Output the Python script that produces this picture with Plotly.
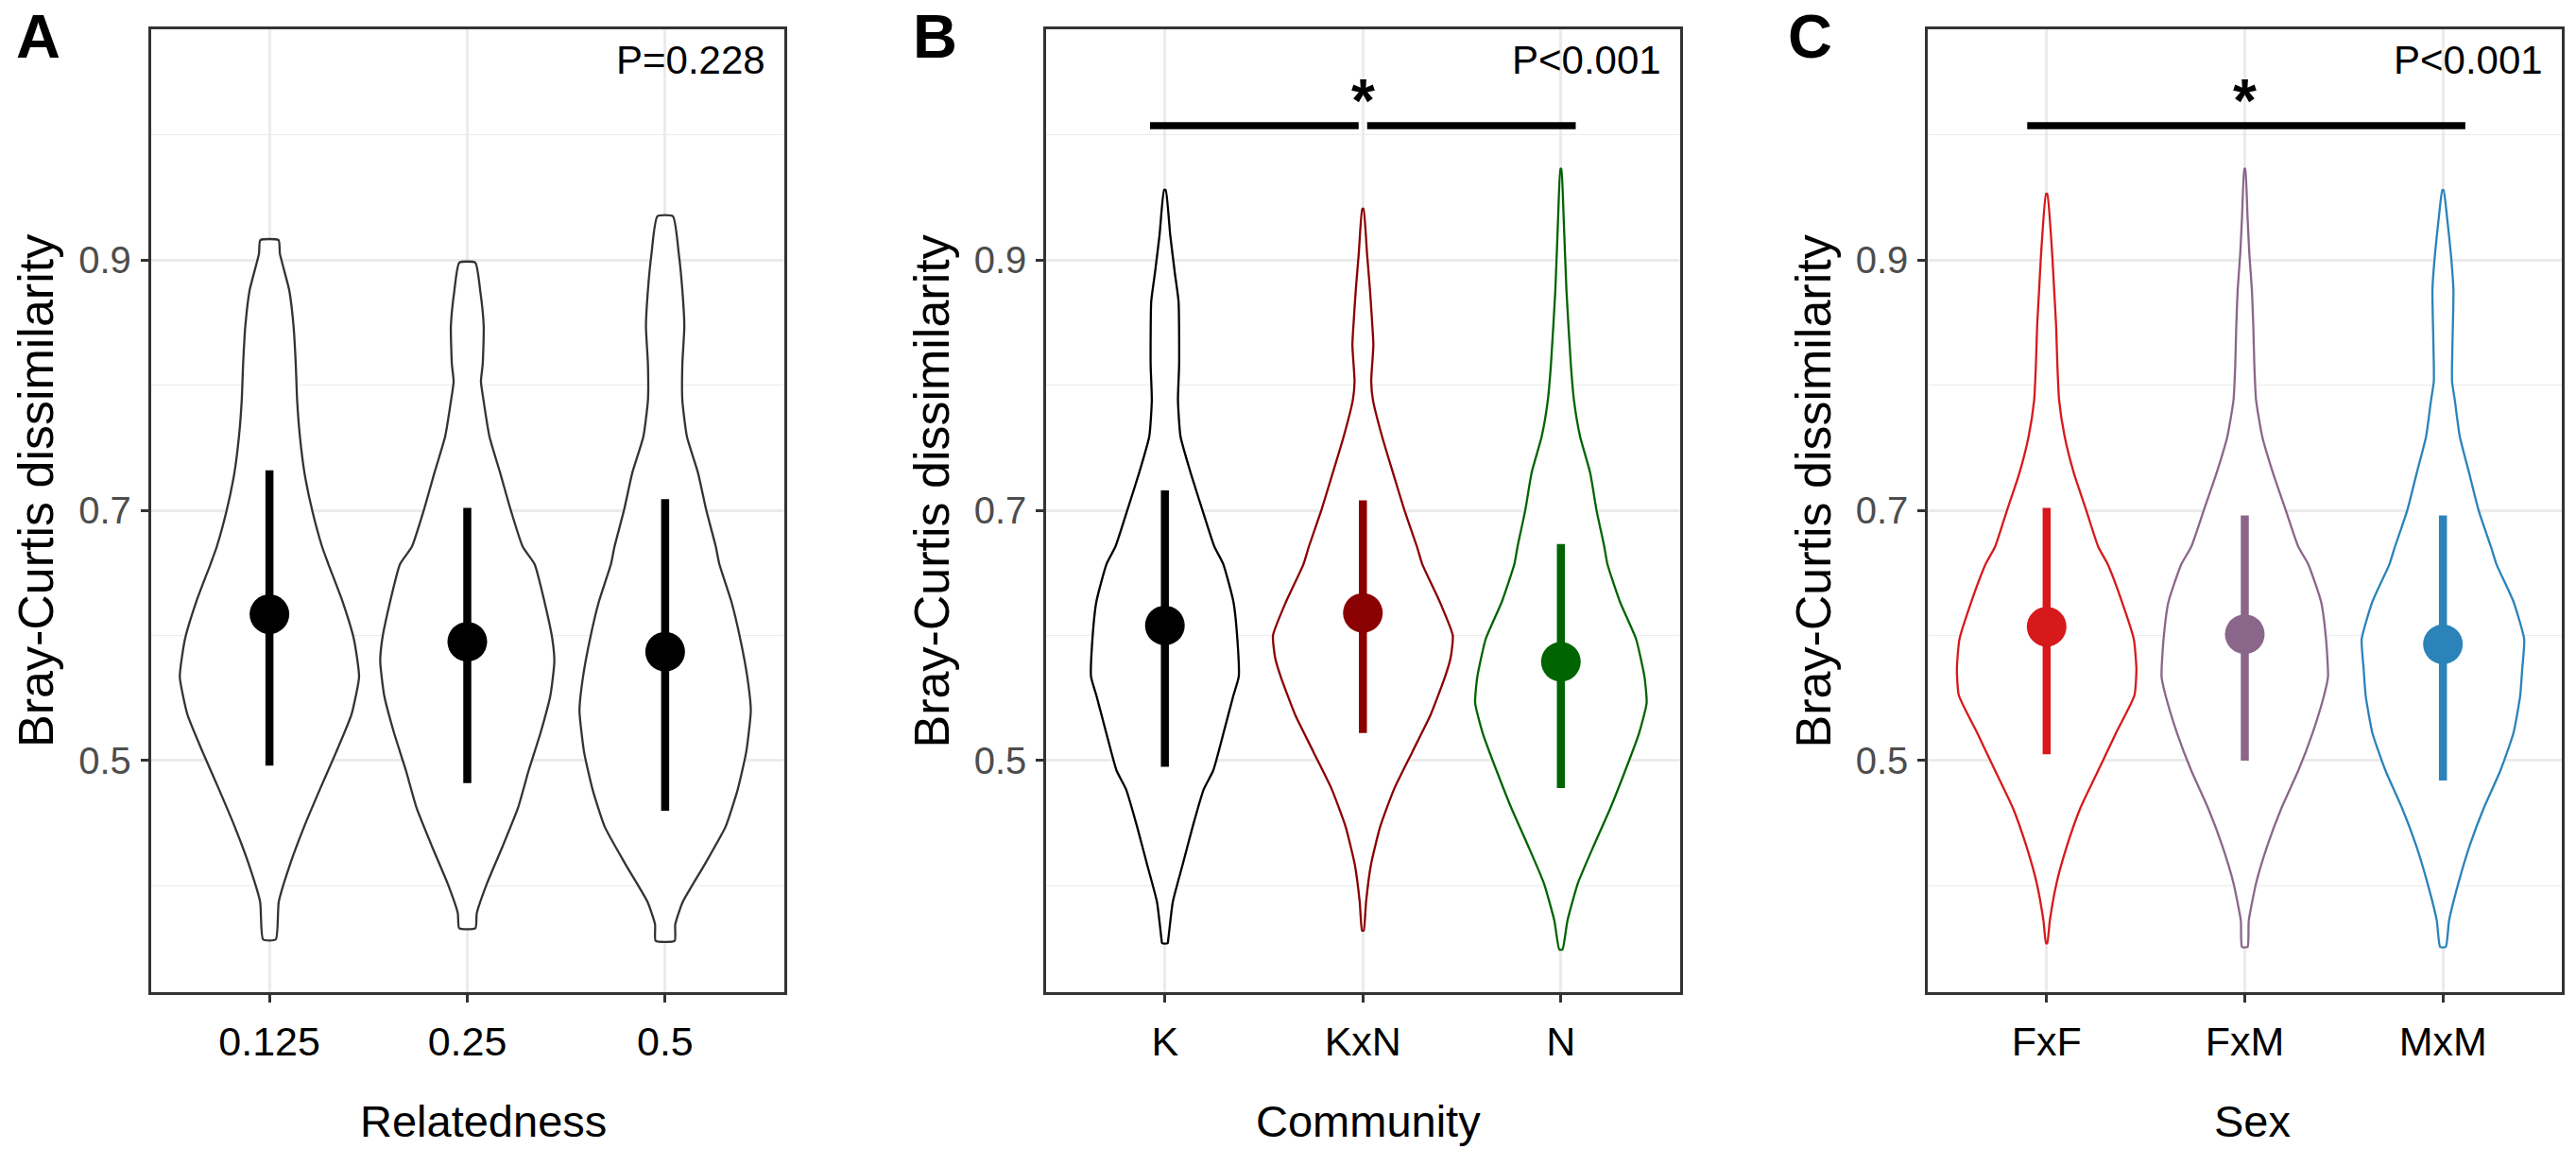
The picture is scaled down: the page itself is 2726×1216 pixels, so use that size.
import plotly.graph_objects as go

FONT = "Liberation Sans, Arial, Helvetica, sans-serif"
W, H = 2726, 1216

# ---------------- data ----------------
rel_labels = ["0.125", "0.25", "0.5"]
com_labels = ["K", "KxN", "N"]
sex_labels = ["FxF", "FxM", "MxM"]

rel_colors = ["#000000", "#000000", "#000000"]
rel_line_colors = ["#333333", "#333333", "#333333"]
com_colors = ["#000000", "#8B0000", "#006400"]
sex_colors = ["#D7191C", "#8B668B", "#2B83BA"]

rel_mean = [0.617, 0.595, 0.587]
rel_upper = [0.732, 0.702, 0.709]
rel_lower = [0.496, 0.482, 0.460]

com_mean = [0.608, 0.618, 0.579]
com_upper = [0.716, 0.708, 0.673]
com_lower = [0.495, 0.522, 0.478]

sex_mean = [0.607, 0.601, 0.593]
sex_upper = [0.702, 0.696, 0.696]
sex_lower = [0.505, 0.500, 0.484]

# violin profiles (value level, half width in category units)
rel1_y = [0.357, 0.387, 0.417, 0.447, 0.477, 0.507, 0.537, 0.567, 0.597, 0.627, 0.657, 0.671, 0.700, 0.730, 0.759, 0.788, 0.817, 0.847, 0.876, 0.905, 0.916]
rel1_w = [0.032, 0.047, 0.104, 0.175, 0.255, 0.338, 0.415, 0.453, 0.427, 0.370, 0.298, 0.266, 0.216, 0.177, 0.154, 0.140, 0.133, 0.122, 0.100, 0.053, 0.046]
rel2_y = [0.366, 0.378, 0.402, 0.432, 0.462, 0.492, 0.522, 0.552, 0.579, 0.597, 0.627, 0.657, 0.671, 0.700, 0.730, 0.759, 0.788, 0.803, 0.817, 0.847, 0.876, 0.898]
rel2_w = [0.041, 0.048, 0.100, 0.180, 0.256, 0.310, 0.370, 0.420, 0.440, 0.430, 0.390, 0.340, 0.280, 0.220, 0.166, 0.112, 0.082, 0.069, 0.078, 0.083, 0.065, 0.040]
rel3_y = [0.356, 0.369, 0.387, 0.417, 0.447, 0.477, 0.507, 0.540, 0.567, 0.597, 0.627, 0.657, 0.671, 0.700, 0.730, 0.759, 0.788, 0.817, 0.847, 0.876, 0.905, 0.935]
rel3_w = [0.048, 0.051, 0.089, 0.200, 0.305, 0.367, 0.410, 0.433, 0.415, 0.380, 0.335, 0.274, 0.256, 0.208, 0.166, 0.110, 0.087, 0.087, 0.097, 0.087, 0.069, 0.039]

com1_y = [0.354, 0.357, 0.387, 0.417, 0.447, 0.477, 0.492, 0.522, 0.552, 0.567, 0.597, 0.627, 0.657, 0.671, 0.700, 0.730, 0.759, 0.788, 0.817, 0.867, 0.890, 0.920, 0.956]
com1_w = [0.014, 0.017, 0.040, 0.090, 0.140, 0.196, 0.244, 0.296, 0.346, 0.373, 0.366, 0.346, 0.295, 0.250, 0.190, 0.130, 0.079, 0.066, 0.072, 0.069, 0.050, 0.027, 0.004]
com2_y = [0.364, 0.387, 0.417, 0.447, 0.477, 0.507, 0.537, 0.567, 0.582, 0.600, 0.627, 0.657, 0.671, 0.700, 0.730, 0.759, 0.788, 0.803, 0.832, 0.847, 0.876, 0.905, 0.941]
com2_w = [0.004, 0.016, 0.041, 0.087, 0.157, 0.250, 0.343, 0.415, 0.443, 0.454, 0.388, 0.300, 0.273, 0.210, 0.152, 0.097, 0.051, 0.042, 0.053, 0.048, 0.036, 0.021, 0.003]
com3_y = [0.349, 0.372, 0.402, 0.432, 0.462, 0.492, 0.522, 0.546, 0.567, 0.597, 0.627, 0.657, 0.671, 0.700, 0.730, 0.759, 0.788, 0.817, 0.876, 0.934, 0.973]
com3_w = [0.008, 0.033, 0.086, 0.166, 0.250, 0.325, 0.395, 0.433, 0.422, 0.380, 0.298, 0.235, 0.219, 0.180, 0.148, 0.097, 0.066, 0.050, 0.028, 0.014, 0.002]

sex1_y = [0.354, 0.372, 0.402, 0.432, 0.462, 0.492, 0.522, 0.552, 0.573, 0.597, 0.627, 0.657, 0.671, 0.700, 0.730, 0.759, 0.788, 0.817, 0.847, 0.876, 0.905, 0.953]
sex1_w = [0.003, 0.016, 0.050, 0.103, 0.170, 0.260, 0.350, 0.443, 0.453, 0.440, 0.380, 0.308, 0.260, 0.200, 0.137, 0.091, 0.063, 0.054, 0.048, 0.038, 0.028, 0.003]
sex2_y = [0.351, 0.372, 0.402, 0.432, 0.462, 0.492, 0.522, 0.552, 0.567, 0.597, 0.627, 0.657, 0.671, 0.700, 0.730, 0.759, 0.788, 0.817, 0.847, 0.876, 0.905, 0.934, 0.973]
sex2_w = [0.014, 0.020, 0.057, 0.114, 0.185, 0.270, 0.342, 0.400, 0.420, 0.410, 0.385, 0.320, 0.270, 0.207, 0.142, 0.088, 0.057, 0.048, 0.043, 0.036, 0.023, 0.014, 0.002]
sex3_y = [0.351, 0.372, 0.402, 0.432, 0.462, 0.492, 0.522, 0.552, 0.573, 0.597, 0.627, 0.657, 0.671, 0.700, 0.730, 0.759, 0.788, 0.803, 0.817, 0.847, 0.876, 0.905, 0.934, 0.956]
sex3_w = [0.014, 0.031, 0.078, 0.135, 0.206, 0.290, 0.356, 0.390, 0.400, 0.410, 0.356, 0.270, 0.242, 0.180, 0.132, 0.085, 0.060, 0.046, 0.046, 0.050, 0.053, 0.040, 0.021, 0.003]

p_texts = ["P=0.228", "P<0.001", "P<0.001"]
x_titles = ["Relatedness", "Community", "Sex"]
y_title = "Bray-Curtis dissimilarity"
panel_letters = ["A", "B", "C"]

# significance bars: (x segments), y level
sig_B_segments = [[0.925, 1.9785], [2.0215, 3.075]]
sig_C_segments = [[0.902, 3.113]]
sig_y = 1.0075
star_y = 1.027
star_x = 2

# ---------------- layout geometry ----------------
panel_px = [(159.5, 829.5), (1107, 1777.5), (2040, 2711)]
ytop_px, ybot_px = 31, 1050
yrange = [0.3149, 1.0845]
xrange = [0.4, 3.6]

panels = [
    dict(labels=rel_labels, colors=rel_colors, lcolors=rel_line_colors, mean=rel_mean, up=rel_upper, lo=rel_lower,
         viol=[(rel1_y, rel1_w), (rel2_y, rel2_w), (rel3_y, rel3_w)], sig=None),
    dict(labels=com_labels, colors=com_colors, lcolors=com_colors, mean=com_mean, up=com_upper, lo=com_lower,
         viol=[(com1_y, com1_w), (com2_y, com2_w), (com3_y, com3_w)], sig=sig_B_segments),
    dict(labels=sex_labels, colors=sex_colors, lcolors=sex_colors, mean=sex_mean, up=sex_upper, lo=sex_lower,
         viol=[(sex1_y, sex1_w), (sex2_y, sex2_w), (sex3_y, sex3_w)], sig=sig_C_segments),
]

fig = go.Figure()
annotations = []

xt_centers = [511, 1448, 2383]
letter_x = [15, 964, 1889.5]

for i, p in enumerate(panels):
    ax = "" if i == 0 else str(i + 1)
    xref, yref = "x" + ax, "y" + ax
    cats = [1, 2, 3]
    # violins
    for c, (vy, vw), col in zip(cats, p["viol"], p["lcolors"]):
        xs = [c + w for w in vw] + [c - w for w in reversed(vw)] + [c + vw[0]]
        ys = list(vy) + list(reversed(vy)) + [vy[0]]
        fig.add_trace(go.Scatter(x=xs, y=ys, mode="lines", fill="toself", fillcolor="white",
                                 line=dict(color=col, width=2.3, shape="spline", smoothing=0.5),
                                 xaxis=xref, yaxis=yref, showlegend=False, hoverinfo="skip"))
    # error bars + points
    for c, m, u, l, col in zip(cats, p["mean"], p["up"], p["lo"], p["colors"]):
        fig.add_trace(go.Scatter(x=[c], y=[m], mode="markers",
                                 marker=dict(size=42, color=col, line=dict(width=0)),
                                 error_y=dict(type="data", symmetric=False, array=[u - m], arrayminus=[m - l],
                                              color=col, thickness=8.5, width=0),
                                 xaxis=xref, yaxis=yref, showlegend=False))
    # significance bars
    if p["sig"]:
        for seg in p["sig"]:
            fig.add_trace(go.Scatter(x=seg, y=[sig_y, sig_y], mode="lines",
                                     line=dict(color="black", width=7.5), xaxis=xref, yaxis=yref,
                                     showlegend=False, hoverinfo="skip"))
        annotations.append(dict(x=star_x, y=star_y, xref=xref, yref=yref, text="<b>*</b>", showarrow=False,
                                font=dict(family=FONT, size=64, color="black"), xanchor="center", yanchor="middle"))

    x0, x1 = panel_px[i]
    fig.layout["xaxis" + ax] = dict(
        domain=[x0 / W, x1 / W], range=xrange, anchor=yref,
        tickmode="array", tickvals=cats, ticktext=p["labels"],
        showgrid=True, gridcolor="#EBEBEB", gridwidth=2.5,
        showline=True, mirror=True, linecolor="#333333", linewidth=2.5,
        ticks="outside", ticklen=8, tickwidth=2.5, tickcolor="#333333",
        tickfont=dict(family=FONT, size=43, color="black"), ticklabelstandoff=5,
        zeroline=False, fixedrange=True,
    )
    fig.layout["yaxis" + ax] = dict(
        domain=[1 - ybot_px / H, 1 - ytop_px / H], range=yrange, anchor=xref,
        tickmode="linear", tick0=0.1, dtick=0.2,
        showgrid=True, gridcolor="#EBEBEB", gridwidth=2.5,
        minor=dict(showgrid=True, gridcolor="#EBEBEB", gridwidth=1.4, tick0=0.1, dtick=0.1, ticks=""),
        showline=True, mirror=True, linecolor="#333333", linewidth=2.5,
        ticks="outside", ticklen=8, tickwidth=2.5, tickcolor="#333333",
        tickfont=dict(family=FONT, size=40, color="#4D4D4D"), ticklabelstandoff=2,
        zeroline=False, fixedrange=True,
    )

    # P-value text
    annotations.append(dict(x=1, y=1.0596, xref="x" + ax + " domain", yref=yref, text=p_texts[i],
                            showarrow=False, xanchor="right", yanchor="middle", xshift=-18,
                            font=dict(family=FONT, size=42, color="black")))
    # x title
    annotations.append(dict(x=xt_centers[i] / W, y=1 - 1186 / H, xref="paper", yref="paper", text=x_titles[i],
                            showarrow=False, xanchor="center", yanchor="middle",
                            font=dict(family=FONT, size=47, color="black")))
    # y title
    annotations.append(dict(x=(38 + (x0 - 159.5)) / W, y=1 - 520 / H, xref="paper", yref="paper", text=y_title,
                            showarrow=False, xanchor="center", yanchor="middle", textangle=-90,
                            font=dict(family=FONT, size=52, color="black")))
    # panel letter
    annotations.append(dict(x=letter_x[i] / W, y=1.0, xref="paper", yref="paper",
                            text="<b>" + panel_letters[i] + "</b>", showarrow=False,
                            xanchor="left", yanchor="top",
                            font=dict(family=FONT, size=65, color="black")))

fig.update_layout(
    width=W, height=H, margin=dict(l=0, r=0, t=0, b=0),
    paper_bgcolor="white", plot_bgcolor="white",
    showlegend=False, annotations=annotations,
)

fig.write_html("out.html", config={"displayModeBar": False},
               post_script="document.body.style.margin='0px';document.body.style.overflow='hidden';")
